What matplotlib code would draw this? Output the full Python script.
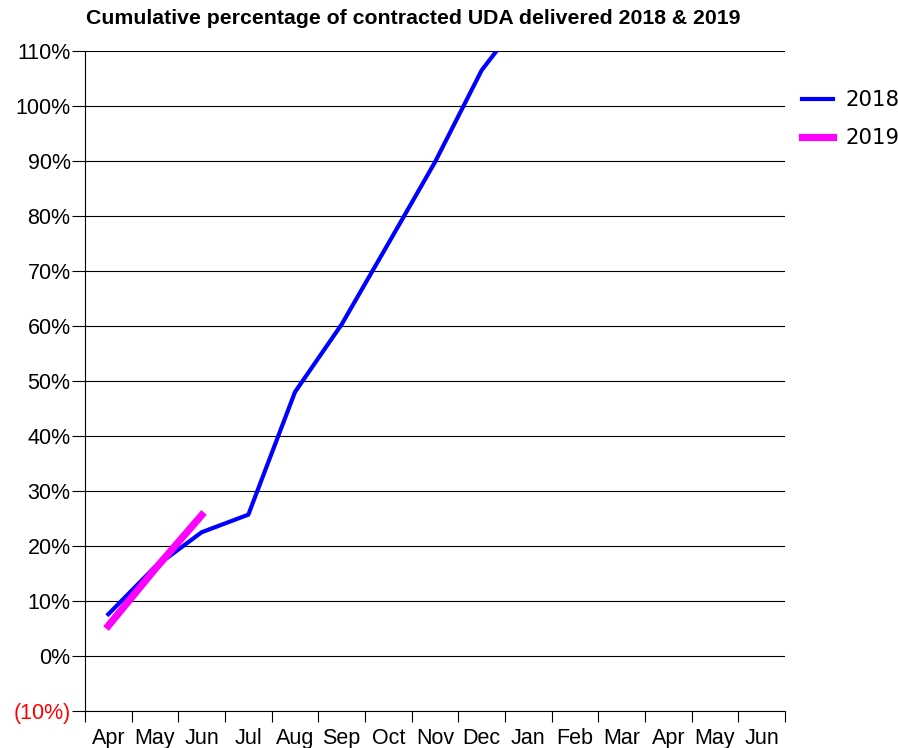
import numpy as np
import matplotlib.pyplot as plt

months = ["Apr", "May", "Jun", "Jul", "Aug", "Sep", "Oct", "Nov", "Dec",
          "Jan", "Feb", "Mar", "Apr", "May", "Jun"]
pct_2018 = [7.6, 16.2, 22.5, 25.7, 48.0, 60.3, 75.0, 89.8, 106.5, 117.5]
pct_2019 = [5.5, 15.8, 25.6]

plt.rcParams['font.family'] = ['Liberation Sans', 'DejaVu Sans']

fig = plt.figure(figsize=(8.98, 7.48), dpi=100)
ax = fig.add_axes([85 / 898, 1 - 711 / 748, 700 / 898, 660 / 748])

x = np.arange(len(months))
l18, = ax.plot(x[:len(pct_2018)], pct_2018, color="#0000ff", lw=3,
               label="2018", solid_joinstyle="miter")
l19, = ax.plot(x[:len(pct_2019)], pct_2019, color="#ff00ff", lw=5.2,
               label="2019")

ax.set_xlim(-0.5, len(months) - 0.5)
ax.set_ylim(-10, 110)

yt = np.arange(-10, 111, 10)
ax.set_yticks(yt)
labels = [f"({abs(v)}%)" if v < 0 else f"{v}%" for v in yt]
ax.set_yticklabels(labels)
for lab, v in zip(ax.get_yticklabels(), yt):
    if v < 0:
        lab.set_color("red")
ax.yaxis.grid(True, color="black", lw=0.8)
ax.set_axisbelow(True)

ax.set_xticks(np.arange(-0.5, len(months)), minor=False)
ax.set_xticklabels([])
ax.set_xticks(x, minor=True)
ax.set_xticklabels(months, minor=True)
ax.tick_params(axis="x", which="major", length=8, width=0.8, direction="out")
ax.tick_params(axis="x", which="minor", length=0, labelsize=15.5, pad=12)
ax.tick_params(axis="y", length=9.4, width=0.8, labelsize=15.5, pad=1)
for s in ("left", "bottom"):
    ax.spines[s].set_linewidth(0.8)

ax.spines["top"].set_visible(False)
ax.spines["right"].set_visible(False)

ax.set_title("Cumulative percentage of contracted UDA delivered 2018 & 2019",
             fontsize=15.3, fontweight="bold", x=0.469, y=1.028)

fig.legend(handles=[l18, l19], loc="center left",
           bbox_to_anchor=(802 / 898, 1 - 119 / 748), frameon=False,
           prop={"family": "DejaVu Sans", "size": 15.3}, handlelength=1.45,
           handletextpad=0.6, labelspacing=0.85, borderpad=0, borderaxespad=0)

fig.savefig("out.png", dpi=100)
